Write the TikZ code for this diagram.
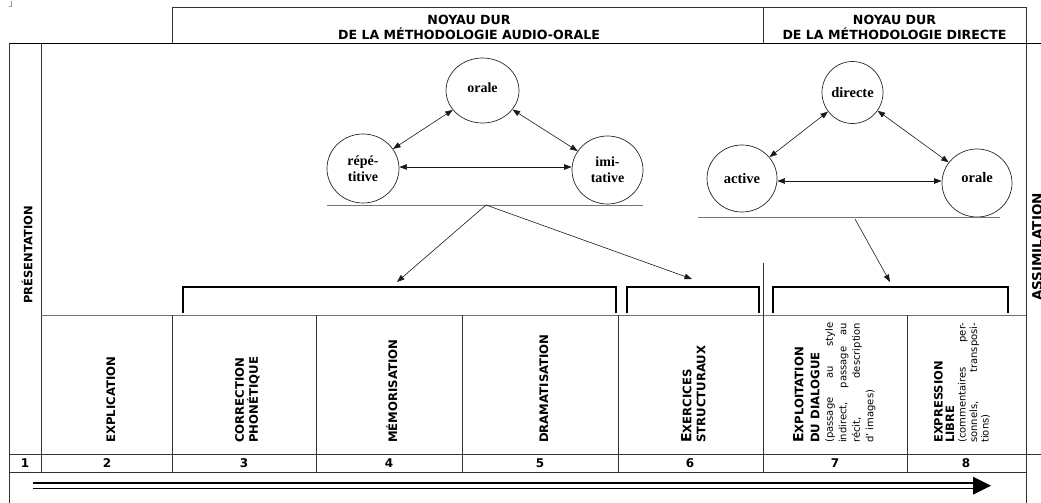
\documentclass[tikz,border=0pt]{standalone}
\usepackage{fontspec}
\setmainfont{DejaVu Sans}
\newfontfamily\tnr{Liberation Serif}
\usetikzlibrary{arrows.meta,shapes.geometric}
\newcommand{\colfont}{\bfseries\fontsize{11.7}{14}\selectfont}
\newcommand{\bigE}{{\fontsize{14}{14}\selectfont E}}
\begin{document}
\begin{tikzpicture}[x=1pt,y=-1pt,
  tline/.style={draw=black!80, line width=0.8pt},
  gline/.style={draw=black!55, line width=1pt},
  brk/.style={draw=black, line width=2.6pt, line join=miter},
  circ/.style={ellipse, draw=black!85, line width=0.7pt, align=center, inner sep=0pt,
     font=\tnr\bfseries\fontsize{14}{16}\selectfont},
  circb/.style={circ, font=\tnr\bfseries\fontsize{14.5}{16}\selectfont},
  conn/.style={{Triangle[length=7.5pt,width=5.5pt]}-{Triangle[length=7.5pt,width=5.5pt]}, draw=black!90, line width=0.6pt},
  oneway/.style={-{Triangle[length=7.5pt,width=5.5pt]}, draw=black!90, line width=0.6pt},
  coltxt/.style={rotate=90, font=\colfont, inner sep=0pt, align=left},
  num/.style={font=\bfseries\fontsize{12}{12}\selectfont, inner sep=0pt},
  hd/.style={font=\bfseries\fontsize{12.6}{15.5}\selectfont, inner sep=0pt, align=center},
]
\useasboundingbox (0,0) rectangle (1041,503);
% tiny corner mark
\draw[black!40, line width=0.5pt] (11,1) -- (11,6) -- (9,6);
% header boxes
\draw[tline] (172,43) -- (172,7) -- (1026,7) -- (1026,503);
\draw[tline] (763,7) -- (763,43);
\node[hd, anchor=north] (h1) at (469,14.5) {NOYAU DUR\\DE LA MÉTHODOLOGIE AUDIO-ORALE};
\node[hd, anchor=north] (h2) at (894.5,14.5) {NOYAU DUR\\DE LA MÉTHODOLOGIE DIRECTE};
% main table frame
\draw[tline, draw=black] (9,43) -- (1041,43);
\draw[tline] (9,43) -- (9,503);
\draw[tline] (41,43) -- (41,472);
\draw[gline] (41,315) -- (1026,315);
\draw[tline] (9,454) -- (1041,454);
\draw[tline] (9,472) -- (1026,472);
\foreach \x in {172,316,462,618,907} \draw[tline] (\x,315) -- (\x,472);
\draw[tline] (763,263) -- (763,472);
% side labels
\node[rotate=90, font=\bfseries\fontsize{11.5}{12}\selectfont, inner sep=0pt] (pres) at (27,255) {PRÉSENTATION};
\node[rotate=90, font=\bfseries\fontsize{13.5}{14}\selectfont, inner sep=0pt, anchor=north] (assim) at (1032,247) {ASSIMILATION};
% column labels
\node[coltxt, anchor=base west] (c2) at (115,443) {EXPLICATION};
\node[coltxt, anchor=north west] (c3) at (235,443) {CORRECTION\\PHONÉTIQUE};
\node[coltxt, anchor=base west] (c4) at (397,443) {MÉMORISATION};
\node[coltxt, anchor=base west] (c5) at (548,443) {DRAMATISATION};
\node[coltxt, anchor=north west] (c6) at (681,443) {\bigE XERCICES\\STRUCTURAUX};
\node[rotate=90, anchor=north west, inner sep=0pt] (c7) at (793,443) {\parbox[t]{120pt}{\setlength{\parindent}{0pt}%
  \colfont\bigE XPLOITATION\par
  \fontsize{11.7}{16}\selectfont DU DIALOGUE\par
  \mdseries\fontsize{10}{13.5}\selectfont
  \makebox[120pt][s]{(passage au style}\par
  \makebox[120pt][s]{indirect, passage au}\par
  \makebox[120pt][s]{récit, description}\par
  d' images)\par}};
\node[rotate=90, anchor=north west, inner sep=0pt] (c8) at (934,443) {\parbox[t]{120pt}{\setlength{\parindent}{0pt}%
  \bfseries\fontsize{11.5}{11.5}\selectfont EXPRESSION\par
  LIBRE\par
  \mdseries\fontsize{10}{11.5}\selectfont
  \makebox[120pt][s]{(commentaires per-}\par
  \makebox[120pt][s]{sonnels, transposi-}\par
  tions)\par}};
% numbers
\node[num] (n1) at (25,463) {1};
\node[num] (n2) at (107,463) {2};
\node[num] (n3) at (244,463) {3};
\node[num] (n4) at (389,463) {4};
\node[num] (n5) at (540,463) {5};
\node[num] (n6) at (690,463) {6};
\node[num] (n7) at (835,463) {7};
\node[num] (n8) at (966,463) {8};
% bottom arrow
\coordinate (aS) at (33,485.7);
\coordinate (aM) at (974,485.7);
\coordinate (aE) at (991,485.7);
\draw[double, double distance=3.6pt, line width=1.8pt] (aS) -- (aM);
\fill (973,476.7) -- (aE) -- (973,494.7) -- cycle;
% left triangle
\node[circ, minimum width=73pt, minimum height=65pt] (orale) at (482.5,90.5) {\raisebox{5pt}{orale}};
\node[circ, minimum width=72pt, minimum height=69pt] (rep) at (363,168.5) {répé-\\titive};
\node[circ, minimum width=71pt, minimum height=68pt] (imi) at (607.5,170) {imi-\\tative};
\draw[conn] (orale) -- (rep);
\draw[conn] (orale) -- (imi);
\draw[conn] (rep.east |- 0,167) -- (imi.west |- 0,167);
\coordinate (ll1) at (327,205);
\coordinate (ll2) at (643,205);
\draw[gline] (ll1) -- (ll2);
% right triangle
\node[circb, minimum width=61pt, minimum height=62pt] (directe) at (852.5,92.5) {directe};
\node[circb, minimum width=70pt, minimum height=67pt] (active) at (742,178.5) {active};
\node[circb, minimum width=70pt, minimum height=68pt] (orale2) at (977,183) {\raisebox{12pt}{orale}};
\draw[conn] (directe) -- (active);
\draw[conn] (directe) -- (orale2);
\draw[conn] (active.east |- 0,181) -- (orale2.west |- 0,181);
\coordinate (rl1) at (698,217);
\coordinate (rl2) at (1000,217);
\draw[gline] (rl1) -- (rl2);
% brackets
\draw[brk] (183,313) -- (183,287) -- (616,287) -- (616,313);
\draw[brk] (627,313) -- (627,287) -- (759,287) -- (759,313);
\draw[brk] (773,313) -- (773,287) -- (1008,287) -- (1008,313);
% arrows to brackets
\coordinate (ls) at (486,205);
\coordinate (lt1) at (397,282);
\coordinate (lt2) at (692,279);
\coordinate (rs) at (855,219);
\coordinate (rt) at (890,282);
\draw[oneway] (ls) -- (lt1);
\draw[oneway] (ls) -- (lt2);
\draw[oneway] (rs) -- (rt);
\end{tikzpicture}
\end{document}
